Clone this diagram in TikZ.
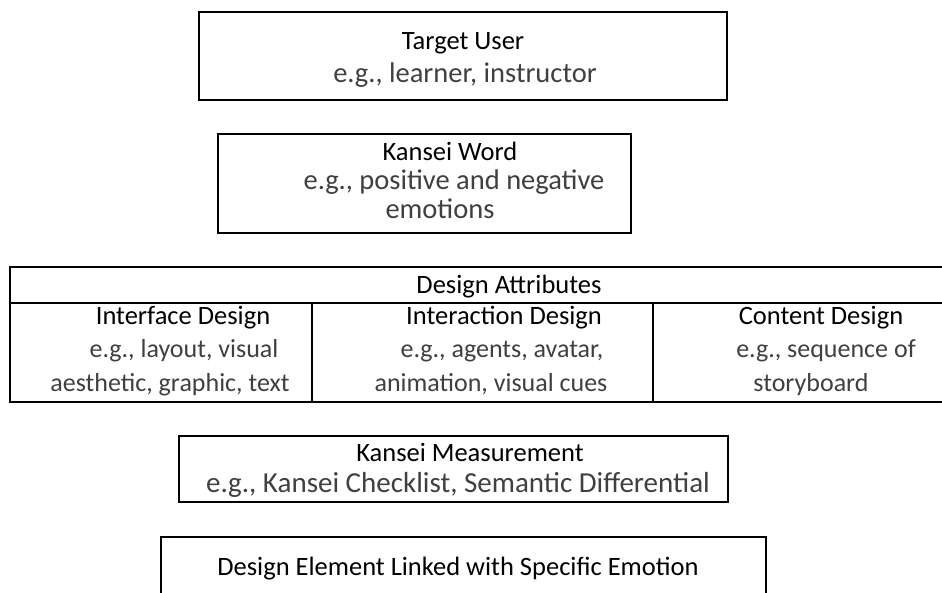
\documentclass[tikz,border=0pt]{standalone}
\usepackage{fontspec}
\setmainfont{Carlito}
\tikzset{
  boxshape/.style={draw=black, line width=1.8pt, rectangle, inner sep=0pt, outer sep=0pt},
  ttl/.style={anchor=base, inner sep=0pt, font=\fontsize{26.5}{30}\selectfont, text=black},
  egt/.style={anchor=base, inner sep=0pt, font=\fontsize{26}{32}\selectfont, text=black!75},
  egbig/.style={anchor=base, inner sep=0pt, font=\fontsize{28.5}{34}\selectfont, text=black!75},
  rulex/.style={line width=1.8pt}
}
\begin{document}
\begin{tikzpicture}[x=1pt,y=-1pt]
\useasboundingbox (0,0) rectangle (942,592);
\clip (0,0) rectangle (942,592);
\fill[white] (0,0) rectangle (942,592);

% Target User
\node[boxshape, minimum width=528pt, minimum height=88pt] (tu) at (463,56) {};
\node[ttl] (tut) at (463,49) {Target User};
\node[egbig] (tue) at (465,82) {e.g., learner, instructor};

% Kansei Word
\node[boxshape, minimum width=413pt, minimum height=99pt] (kw) at (424.5,183.5) {};
\node[ttl] (kwt) at (450,160) {Kansei Word};
\node[egbig] (kwe1) at (454,189) {e.g., positive and negative};
\node[egbig] (kwe2) at (440,218) {emotions};

% Design Attributes table
\node[boxshape, minimum width=940pt, minimum height=135pt] (tab) at (480,334.5) {};
\coordinate (hl) at (10,303);
\coordinate (hr) at (950,303);
\draw[rulex] (hl) -- (hr);
\coordinate (d1t) at (312,303);
\coordinate (d1b) at (312,402);
\coordinate (d2t) at (653,303);
\coordinate (d2b) at (653,402);
\draw[rulex] (d1t) -- (d1b);
\draw[rulex] (d2t) -- (d2b);
\node[ttl] (dat) at (509,293) {Design Attributes};

\node[ttl] (c1t) at (183,324) {Interface Design};
\node[egt] (c1a) at (184,357) {e.g., layout, visual};
\node[egt] (c1b) at (170,391) {aesthetic, graphic, text};

\node[ttl] (c2t) at (504,324) {Interaction Design};
\node[egt] (c2a) at (502,357) {e.g., agents, avatar,};
\node[egt] (c2b) at (491,391) {animation, visual cues};

\node[ttl] (c3t) at (821,324) {Content Design};
\node[egt] (c3a) at (826,357) {e.g., sequence of};
\node[egt] (c3b) at (811,391) {storyboard};

% Kansei Measurement
\node[boxshape, minimum width=549pt, minimum height=66pt] (km) at (453.5,469) {};
\node[ttl] (kmt) at (470,461) {Kansei Measurement};
\node[egbig, font=\fontsize{29}{34}\selectfont] (kme) at (458,492) {e.g., Kansei Checklist, Semantic Differential};

% Design Element
\node[boxshape, minimum width=605pt, minimum height=90pt] (de) at (463.5,582) {};
\node[ttl] (det) at (458,575) {Design Element Linked with Specific Emotion};
\end{tikzpicture}
\end{document}
